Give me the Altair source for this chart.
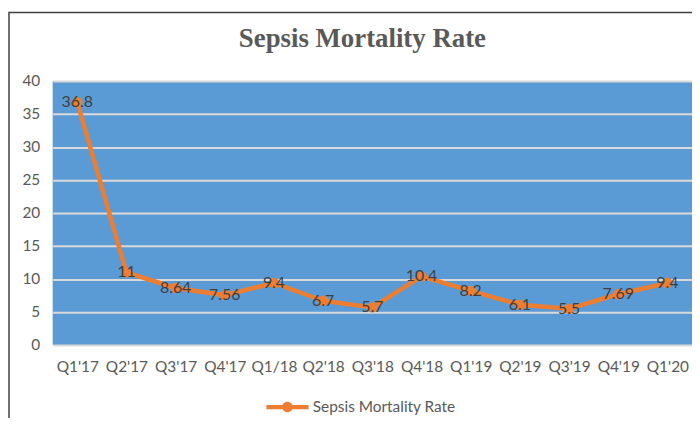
import altair as alt
import pandas as pd

quarters = ["Q1'17", "Q2'17", "Q3'17", "Q4'17", "Q1/18", "Q2'18", "Q3'18",
            "Q4'18", "Q1'19", "Q2'19", "Q3'19", "Q4'19", "Q1'20"]
rates = [36.8, 11, 8.64, 7.56, 9.4, 6.7, 5.7, 10.4, 8.2, 6.1, 5.5, 7.69, 9.4]
labels = ["36.8", "11", "8.64", "7.56", "9.4", "6.7", "5.7", "10.4", "8.2", "6.1", "5.5", "7.69", "9.4"]
series = "Sepsis Mortality Rate"

df = pd.DataFrame({"q": quarters, "rate": rates, "label": labels, "series": series})

ORANGE = "#ed7d31"
GRAY = "#595959"

x = alt.X("q:N", sort=quarters, title=None,
          scale=alt.Scale(paddingInner=0, paddingOuter=0),
          axis=alt.Axis(labelAngle=0, labelFont="Lato", labelFontSize=15.5, labelColor=GRAY,
                        labelPadding=15, ticks=False, domain=False, grid=False))
y = alt.Y("rate:Q", title=None,
          scale=alt.Scale(domain=[0, 40], nice=False),
          axis=alt.Axis(values=[0, 5, 10, 15, 20, 25, 30, 35, 40], labelFont="Lato",
                        labelFontSize=15.5, labelColor=GRAY, labelPadding=13, ticks=False,
                        domain=False, gridColor="#d9d9d9", gridWidth=2))

base = alt.Chart(df)

legend_path = ("M-1,-0.1H1V0.1H-1Z "
               "M0.25,0A0.25,0.25 0 1,1 -0.25,0A0.25,0.25 0 1,1 0.25,0Z")

line = base.mark_line(strokeWidth=4.5).encode(
    x=x, y=y,
    color=alt.Color("series:N", scale=alt.Scale(range=[ORANGE]),
                    legend=alt.Legend(title=None, orient="none", legendX=215, legendY=307,
                                      symbolType=legend_path, symbolSize=1800,
                                      symbolFillColor=ORANGE, symbolStrokeWidth=0,
                                      labelFont="Lato", labelFontSize=15.5, labelColor=GRAY,
                                      labelOffset=4)),
)
points = base.mark_circle(size=110, opacity=1, color=ORANGE).encode(x=x, y=y)
text = base.mark_text(font="Lato", fontSize=16, color="#404040", baseline="middle", align="center").encode(
    x=x, y=y, text="label:N")

frame = alt.Chart(pd.DataFrame({"a": [0]})).mark_rect(
    fill=None, stroke="#404040", strokeWidth=1.5).encode(
    x=alt.value(-44), x2=alt.value(700), y=alt.value(-69), y2=alt.value(500))

chart = alt.layer(line, points, text, frame).properties(
    width=644, height=266,
    autosize=alt.AutoSizeParams(type="none"),
    padding={"left": 45, "top": 72, "right": 0, "bottom": 72},
    title=alt.TitleParams(series, font="Liberation Serif", fontSize=27, fontWeight="bold",
                          color=GRAY, anchor="middle", dx=-10, offset=-42),
).configure_view(fill="#5b9bd5", stroke=None)

chart.save("out.html", embed_options={"renderer": "svg", "actions": False})
